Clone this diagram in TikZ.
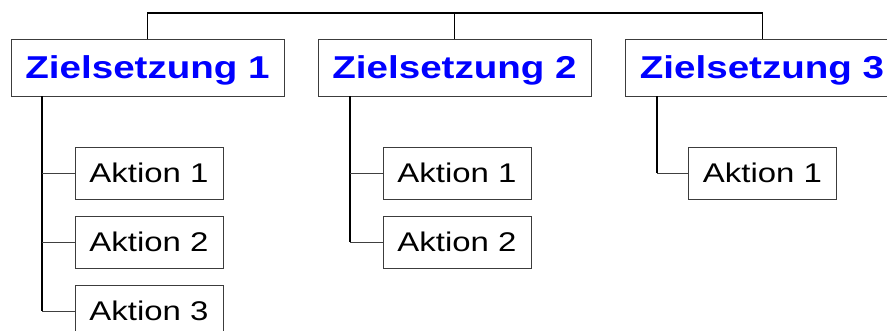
\documentclass[tikz,border=0pt]{standalone}
\usepackage{fontspec}
\setmainfont{Liberation Sans}
\definecolor{zblue}{RGB}{0,0,255}
\definecolor{boxgray}{RGB}{60,60,60}
\begin{document}
\begin{tikzpicture}[x=1pt,y=-1pt,
  goalbox/.style={draw=boxgray, line width=0.9pt, fill=white, minimum width=273pt, minimum height=57pt,
    inner sep=0pt, text height=22.6pt, text depth=0pt,
    font=\fontsize{31.6}{34}\selectfont\bfseries\addfontfeature{FakeStretch=1.22}, text=zblue},
  actbox/.style={draw=boxgray, line width=0.9pt, fill=white, minimum width=148pt, minimum height=52pt,
    inner sep=0pt, text height=19.3pt, text depth=0pt,
    font=\fontsize{27}{30}\selectfont\addfontfeature{FakeStretch=1.22}, text=black},
  bar/.style={line width=1.6pt, black},
  drop/.style={line width=0.9pt, black},
  trunk/.style={line width=1.8pt, black},
  branch/.style={line width=0.9pt, black!75}]
\useasboundingbox (0,0) rectangle (887,331);
\clip (0,0) rectangle (887,331);
\node[goalbox] (z1) at (147.5,67.5) {Zielsetzung 1};
\node[goalbox] (z2) at (454.5,67.5) {Zielsetzung 2};
\node[goalbox] (z3) at (762,67.5) {Zielsetzung 3};
\node[actbox] (a11) at (149,173) {Aktion 1};
\node[actbox] (a12) at (149,242) {Aktion 2};
\node[actbox] (a13) at (149,311) {Aktion 3};
\node[actbox] (a21) at (457,173) {Aktion 1};
\node[actbox] (a22) at (457,242) {Aktion 2};
\node[actbox] (a31) at (762.5,173) {Aktion 1};
\coordinate (b1) at (147.5,13);
\coordinate (b3) at (762,13);
\coordinate (t1) at (42,0);
\coordinate (t2) at (350,0);
\coordinate (t3) at (657,0);
\draw[bar] ([xshift=-0.5pt]b1) -- ([xshift=0.5pt]b3);
\draw[drop] (z1.north) -- (z1.north |- b1);
\draw[drop] (z2.north) -- (z2.north |- b1);
\draw[drop] (z3.north) -- (z3.north |- b1);
\draw[trunk] (z1.south -| t1) -- (a13.west -| t1);
\draw[trunk] (z2.south -| t2) -- (a22.west -| t2);
\draw[trunk] (z3.south -| t3) -- (a31.west -| t3);
\draw[branch] (a11.west -| t1) -- (a11.west);
\draw[branch] (a12.west -| t1) -- (a12.west);
\draw[branch] (a13.west -| t1) -- (a13.west);
\draw[branch] (a21.west -| t2) -- (a21.west);
\draw[branch] (a22.west -| t2) -- (a22.west);
\draw[branch] (a31.west -| t3) -- (a31.west);
\end{tikzpicture}
\end{document}
